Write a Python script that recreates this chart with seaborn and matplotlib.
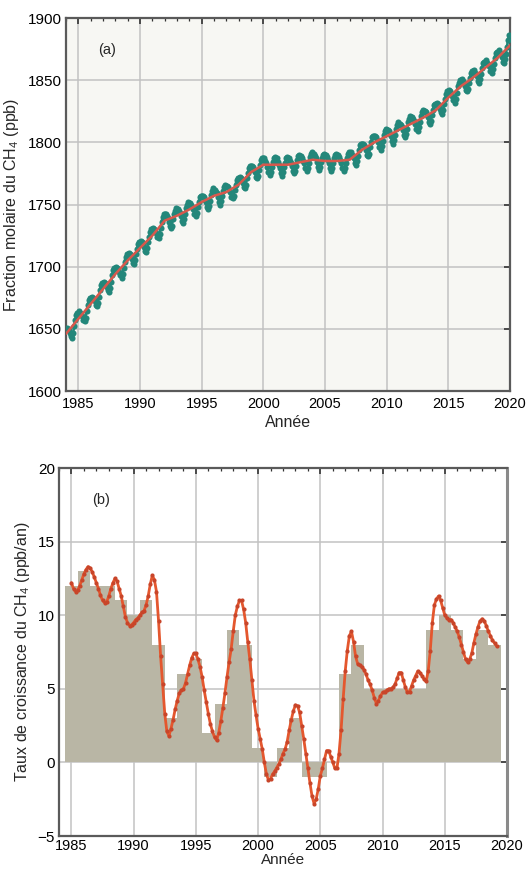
import numpy as np
import pandas as pd
import matplotlib
matplotlib.use("Agg")
import matplotlib.pyplot as plt
import seaborn as sns

#%% Données
first_year = 1984

# fraction molaire mensuelle du CH4 (ppb), une ligne = une année
ch4_1980s = [
    1650, 1651, 1650, 1649, 1647, 1644, 1643, 1647, 1652, 1657, 1661, 1663,
    1663, 1664, 1663, 1662, 1660, 1657, 1656, 1659, 1664, 1669, 1673, 1675,
    1675, 1676, 1675, 1674, 1672, 1669, 1668, 1671, 1676, 1681, 1685, 1687,
    1687, 1688, 1687, 1686, 1684, 1681, 1680, 1683, 1688, 1693, 1697, 1699,
    1699, 1700, 1699, 1698, 1696, 1693, 1691, 1694, 1699, 1704, 1708, 1710,
    1710, 1711, 1710, 1709, 1706, 1703, 1702, 1705, 1710, 1714, 1718, 1720,
]
ch4_1990s = [
    1720, 1721, 1720, 1719, 1716, 1713, 1712, 1715, 1720, 1724, 1728, 1730,
    1730, 1731, 1730, 1729, 1727, 1724, 1723, 1726, 1731, 1736, 1740, 1742,
    1742, 1742, 1741, 1739, 1736, 1733, 1731, 1733, 1738, 1742, 1745, 1747,
    1746, 1746, 1745, 1743, 1741, 1737, 1735, 1738, 1742, 1747, 1750, 1752,
    1751, 1751, 1750, 1748, 1746, 1742, 1741, 1743, 1748, 1752, 1756, 1757,
    1757, 1757, 1756, 1754, 1752, 1748, 1746, 1749, 1753, 1758, 1761, 1763,
    1762, 1762, 1760, 1759, 1756, 1752, 1750, 1753, 1757, 1761, 1764, 1766,
    1765, 1765, 1764, 1762, 1760, 1756, 1755, 1757, 1762, 1766, 1770, 1771,
    1771, 1772, 1771, 1769, 1767, 1764, 1763, 1766, 1771, 1775, 1779, 1781,
    1781, 1781, 1780, 1778, 1776, 1772, 1771, 1773, 1778, 1782, 1786, 1787,
]
ch4_2000s = [
    1787, 1787, 1785, 1783, 1780, 1776, 1774, 1776, 1780, 1784, 1787, 1788,
    1786, 1787, 1784, 1782, 1779, 1775, 1773, 1776, 1780, 1783, 1787, 1788,
    1787, 1787, 1785, 1783, 1781, 1777, 1775, 1777, 1781, 1786, 1789, 1790,
    1789, 1789, 1787, 1785, 1783, 1779, 1777, 1779, 1783, 1788, 1791, 1792,
    1791, 1791, 1789, 1787, 1784, 1780, 1778, 1780, 1784, 1787, 1790, 1791,
    1790, 1790, 1788, 1786, 1783, 1779, 1777, 1779, 1783, 1787, 1790, 1791,
    1790, 1790, 1788, 1786, 1783, 1779, 1777, 1779, 1783, 1787, 1791, 1792,
    1791, 1792, 1790, 1789, 1787, 1783, 1782, 1785, 1789, 1794, 1798, 1799,
    1799, 1799, 1798, 1796, 1794, 1790, 1789, 1791, 1796, 1800, 1804, 1805,
    1805, 1805, 1804, 1802, 1800, 1796, 1794, 1797, 1801, 1806, 1809, 1811,
]
ch4_2010s = [
    1810, 1810, 1809, 1807, 1805, 1801, 1799, 1802, 1806, 1811, 1814, 1816,
    1815, 1815, 1814, 1812, 1810, 1806, 1804, 1807, 1811, 1816, 1819, 1821,
    1820, 1820, 1819, 1817, 1815, 1811, 1809, 1812, 1816, 1821, 1824, 1826,
    1825, 1825, 1824, 1822, 1820, 1816, 1815, 1817, 1822, 1826, 1830, 1831,
    1831, 1832, 1831, 1829, 1827, 1824, 1823, 1826, 1831, 1835, 1839, 1841,
    1841, 1842, 1841, 1839, 1837, 1834, 1832, 1835, 1840, 1845, 1848, 1850,
    1850, 1851, 1849, 1848, 1845, 1842, 1841, 1843, 1848, 1852, 1856, 1857,
    1857, 1858, 1856, 1855, 1853, 1849, 1848, 1851, 1855, 1860, 1864, 1865,
    1865, 1866, 1864, 1863, 1861, 1857, 1856, 1859, 1863, 1868, 1872, 1873,
    1873, 1874, 1872, 1871, 1869, 1865, 1864, 1867, 1871, 1877, 1882, 1886,
]

# tendance désaisonnalisée (janvier de chaque année)
trend_years = list(range(1984, 2021))
trend_ch4 = [1646, 1658, 1670, 1682, 1694, 1705, 1715, 1725, 1737, 1741,
             1746, 1752, 1757, 1760, 1766, 1776, 1782, 1782, 1782, 1784,
             1786, 1785, 1785, 1786, 1794, 1800, 1805, 1810, 1815, 1820,
             1826, 1836, 1845, 1852, 1860, 1868, 1878]

# taux de croissance annuel (barres)
bar_years = list(range(1985, 2020))
bar_growth = [12, 13, 12, 12, 11, 10, 11, 8, 3, 6, 7, 2, 4, 9, 8, 1, -1, 1, 3,
              -1, -1, 0, 6, 8, 5, 5, 5, 5, 5, 9, 10, 9, 7, 9, 8]

# taux de croissance lissé, tous les deux mois à partir de 1985
growth_start = 1985
growth_1980s = [
    12.2, 11.8, 11.6, 11.7, 12.0, 12.4,
    12.8, 13.1, 13.3, 13.2, 12.95, 12.6,
    12.2, 11.8, 11.35, 11.0, 10.85, 10.9,
    11.3, 11.8, 12.2, 12.5, 12.3, 11.8,
    11.3, 10.6, 9.9, 9.5, 9.3, 9.35,
]
growth_1990s = [
    9.5, 9.7, 9.8, 10.0, 10.2, 10.3,
    10.7, 11.3, 12.1, 12.7, 12.4, 11.6,
    9.6, 7.2, 5.3, 3.3, 2.1, 1.8,
    2.3, 2.9, 3.6, 4.2, 4.7, 4.9,
    5.0, 5.4, 6.0, 6.6, 7.1, 7.4,
    7.4, 7.0, 6.5, 5.8, 4.9, 4.1,
    3.3, 2.6, 2.1, 1.7, 1.5, 2.0,
    2.8, 3.7, 4.7, 5.8, 6.8, 7.7,
    8.9, 10.0, 10.6, 11.0, 11.0, 10.4,
    9.5, 8.2, 7.0, 5.6, 4.2, 3.2,
]
growth_2000s = [
    2.3, 1.6, 0.9, 0.0, -0.8, -1.2,
    -1.1, -0.8, -0.6, -0.35, -0.1, 0.2,
    0.6, 0.9, 1.4, 2.2, 2.9, 3.5,
    3.9, 3.85, 3.4, 2.5, 1.6, 0.6,
    -0.4, -1.4, -2.3, -2.8, -2.5, -1.8,
    -0.9, -0.4, 0.2, 0.8, 0.8, 0.4,
    0.0, -0.4, -0.4, 0.6, 2.2, 4.3,
    6.2, 7.6, 8.6, 8.9, 8.2, 7.2,
    6.7, 6.6, 6.5, 6.3, 6.0, 5.6,
    5.3, 4.9, 4.4, 4.0, 4.2, 4.5,
]
growth_2010s = [
    4.75, 4.8, 4.9, 5.0, 5.0, 5.1,
    5.3, 5.7, 6.1, 6.1, 5.6, 5.1,
    4.75, 4.8, 5.2, 5.6, 5.9, 6.2,
    6.1, 5.9, 5.65, 5.5, 6.2, 7.6,
    9.5, 10.7, 11.1, 11.3, 11.0, 10.5,
    10.0, 9.8, 9.7, 9.7, 9.5, 9.2,
    8.9, 8.5, 8.0, 7.5, 7.0, 6.8,
    7.0, 7.4, 8.1, 8.7, 9.2, 9.6,
    9.75, 9.6, 9.3, 8.9, 8.6, 8.3,
    8.1, 7.9,
]

#%% Tableaux
ch4 = ch4_1980s + ch4_1990s + ch4_2000s + ch4_2010s
df_ch4 = pd.DataFrame({"annee": first_year + np.arange(len(ch4)) / 12, "ch4": ch4})
df_trend = pd.DataFrame({"annee": trend_years, "ch4": trend_ch4})
growth = growth_1980s + growth_1990s + growth_2000s + growth_2010s
df_growth = pd.DataFrame({"annee": growth_start + np.arange(len(growth)) / 6, "taux": growth})

#%% Figure
sns.set_theme(style="white")
plt.rcParams["font.family"] = ["Liberation Sans", "DejaVu Sans"]
plt.rcParams["mathtext.default"] = "regular"

fig = plt.figure(figsize=(5.30, 8.72), dpi=100)
W, H = 530, 872
ax1 = fig.add_axes([66 / W, 1 - 391 / H, 444 / W, 373 / H])
ax2 = fig.add_axes([59 / W, 1 - 836 / H, 448 / W, 368 / H])

grid_col = "#c2c2c2"
spine_col = "#5a5a5a"


def habillage(ax):
    ax.set_xlim(1984, 2020)
    ax.set_xticks(range(1985, 2021, 5))
    ax.set_xticks(range(1984, 2021), minor=True)
    ax.grid(True, which="major", color=grid_col, lw=1.1)
    ax.tick_params(which="both", direction="in", top=True, right=True,
                   colors="#333333", labelcolor="black")
    ax.tick_params(axis="x", which="major", labelsize=10.5, pad=4)
    ax.tick_params(axis="y", which="major", labelsize=11, pad=3)
    ax.tick_params(which="major", length=4, width=1.2)
    ax.tick_params(which="minor", length=2.5, width=0.9)
    ax.tick_params(axis="y", which="minor", left=False, right=False)
    for s in ax.spines.values():
        s.set_color(spine_col)
        s.set_linewidth(1.6)
    ax.set_axisbelow(True)


# (a) fraction molaire
ax1.set_facecolor("#f7f7f3")
sns.lineplot(data=df_ch4, x="annee", y="ch4", ax=ax1, color="#23877a",
             lw=1.8, marker="o", markersize=4.4, markeredgewidth=0, zorder=3)
sns.lineplot(data=df_trend, x="annee", y="ch4", ax=ax1, color="#d8584c",
             lw=1.8, zorder=4)
habillage(ax1)
ax1.set_ylim(1600, 1900)
ax1.set_yticks(range(1600, 1901, 50))
ax1.set_xlabel("Année", fontsize=11.5, labelpad=3)
ax1.set_ylabel("Fraction molaire du CH$_4$ (ppb)", fontsize=11.5, labelpad=5)
ax1.text(1987.3, 1874, "(a)", fontsize=10.5, ha="center", va="center")

# (b) taux de croissance
ax2.set_facecolor("white")
ax2.bar(bar_years, bar_growth, width=1.0, color="#b9b6a5", lw=0, zorder=2)
sns.lineplot(data=df_growth, x="annee", y="taux", ax=ax2, color="#e4572e",
             lw=2.0, marker="o", markersize=3.0, markeredgewidth=0,
             markerfacecolor="#c8452a", zorder=4)
habillage(ax2)
ax2.tick_params(axis="x", which="major", pad=2)
ax2.spines["right"].set_color("#8a8a8a")
ax2.spines["right"].set_linewidth(2.2)
ax2.set_ylim(-5, 20)
ax2.set_yticks(range(-5, 21, 5))
ax2.set_xlabel("Année", fontsize=11, labelpad=0)
ax2.set_ylabel("Taux de croissance du CH$_4$ (ppb/an)", fontsize=11.5, labelpad=4)
ax2.text(1987.4, 17.8, "(b)", fontsize=10.5, ha="center", va="center")

fig.savefig("out.png", dpi=100)
